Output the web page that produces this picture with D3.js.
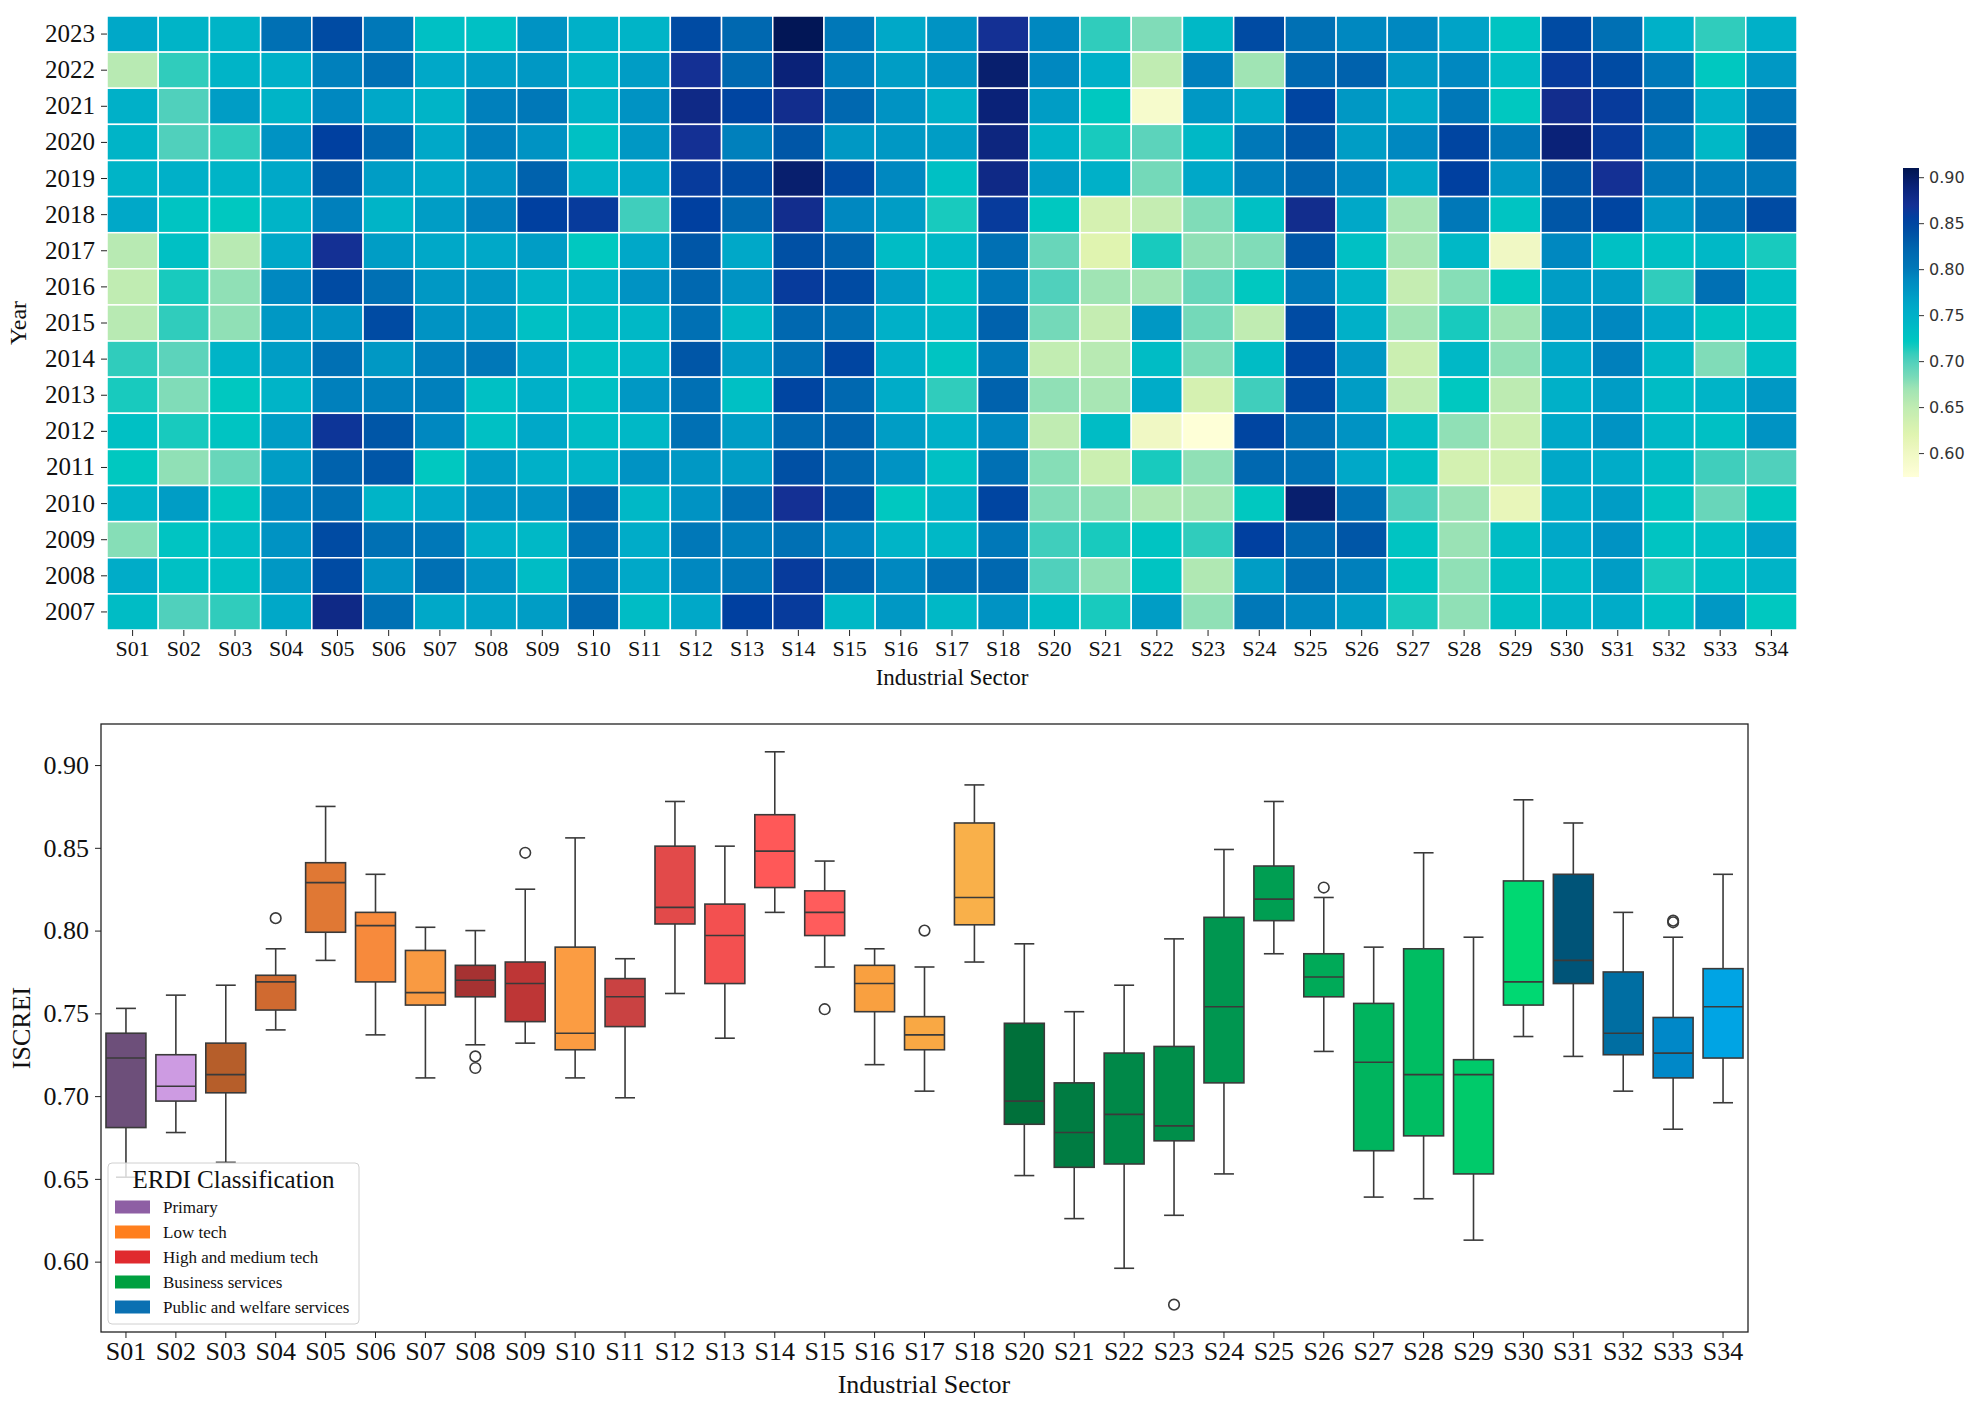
<!DOCTYPE html>
<html>
<head>
<meta charset="utf-8">
<script src="https://cdn.jsdelivr.net/npm/d3@7"></script>
<style>
html,body{margin:0;padding:0;background:#fff;}
svg{display:block;}
</style>
</head>
<body>
<svg id="chart" width="1977" height="1406"></svg>
<script>
// ---------- DATA ----------
const sectors = ["S01","S02","S03","S04","S05","S06","S07","S08","S09","S10","S11","S12","S13","S14","S15","S16","S17","S18","S20","S21","S22","S23","S24","S25","S26","S27","S28","S29","S30","S31","S32","S33","S34"];
const years = [2023,2022,2021,2020,2019,2018,2017,2016,2015,2014,2013,2012,2011,2010,2009,2008,2007];

// ISCREI per year (rows follow `years`, columns follow `sectors`)
const heatValues = [
 [0.76,0.745,0.745,0.81,0.845,0.80,0.73,0.73,0.78, 0.75,0.745,0.845,0.82,0.907,0.80,0.76,0.78,0.87,0.79, 0.71,0.68,0.74,0.845,0.81,0.79,0.79,0.765,0.725,0.845,0.81,0.75,0.71,0.75],
 [0.655,0.71,0.745,0.75,0.795,0.81,0.76,0.77,0.775, 0.745,0.77,0.87,0.82,0.89,0.795,0.77,0.78,0.895,0.79, 0.75,0.65,0.795,0.67,0.82,0.825,0.775,0.79,0.735,0.86,0.845,0.80,0.72,0.775],
 [0.75,0.70,0.77,0.745,0.79,0.76,0.745,0.795,0.80, 0.745,0.78,0.88,0.85,0.875,0.82,0.78,0.75,0.89,0.77, 0.72,0.59,0.775,0.755,0.85,0.775,0.76,0.80,0.72,0.875,0.86,0.82,0.75,0.80],
 [0.745,0.70,0.71,0.78,0.855,0.82,0.76,0.795,0.78, 0.73,0.775,0.87,0.795,0.835,0.775,0.775,0.77,0.885,0.745, 0.715,0.695,0.74,0.80,0.835,0.77,0.79,0.85,0.80,0.89,0.86,0.80,0.74,0.825],
 [0.745,0.75,0.745,0.76,0.835,0.77,0.76,0.78,0.825, 0.745,0.76,0.86,0.845,0.895,0.845,0.79,0.73,0.88,0.77, 0.75,0.685,0.76,0.795,0.82,0.79,0.76,0.855,0.775,0.835,0.87,0.80,0.795,0.80],
 [0.76,0.725,0.72,0.745,0.795,0.745,0.77,0.795,0.855, 0.86,0.705,0.855,0.82,0.875,0.79,0.77,0.715,0.86,0.72, 0.63,0.645,0.68,0.73,0.875,0.76,0.665,0.80,0.725,0.835,0.85,0.775,0.80,0.845],
 [0.655,0.73,0.655,0.76,0.87,0.77,0.76,0.76,0.77, 0.72,0.76,0.835,0.76,0.84,0.825,0.735,0.74,0.81,0.69, 0.62,0.715,0.675,0.68,0.835,0.73,0.665,0.74,0.60,0.79,0.73,0.73,0.74,0.715],
 [0.65,0.715,0.675,0.79,0.845,0.81,0.775,0.775,0.745, 0.745,0.78,0.82,0.78,0.86,0.845,0.77,0.73,0.80,0.70, 0.67,0.668,0.69,0.72,0.80,0.745,0.645,0.678,0.72,0.77,0.77,0.71,0.81,0.73],
 [0.655,0.71,0.675,0.775,0.78,0.845,0.78,0.775,0.73, 0.735,0.74,0.81,0.74,0.82,0.81,0.75,0.74,0.825,0.685, 0.645,0.775,0.685,0.65,0.845,0.75,0.67,0.715,0.67,0.775,0.79,0.76,0.725,0.725],
 [0.71,0.695,0.745,0.77,0.81,0.775,0.795,0.80,0.76, 0.73,0.74,0.835,0.77,0.81,0.85,0.75,0.725,0.80,0.648, 0.655,0.735,0.68,0.735,0.85,0.775,0.64,0.74,0.675,0.76,0.795,0.74,0.68,0.73],
 [0.715,0.68,0.72,0.745,0.795,0.795,0.795,0.73,0.75, 0.73,0.775,0.81,0.73,0.85,0.82,0.755,0.71,0.825,0.675, 0.665,0.755,0.63,0.705,0.845,0.77,0.648,0.72,0.652,0.75,0.77,0.735,0.745,0.775],
 [0.73,0.715,0.725,0.77,0.865,0.835,0.79,0.73,0.76, 0.735,0.74,0.81,0.77,0.82,0.825,0.77,0.75,0.79,0.65, 0.735,0.60,0.575,0.85,0.81,0.78,0.735,0.675,0.64,0.76,0.78,0.74,0.73,0.78],
 [0.72,0.675,0.69,0.77,0.825,0.835,0.72,0.77,0.75, 0.745,0.78,0.775,0.77,0.84,0.82,0.78,0.73,0.81,0.678, 0.64,0.715,0.675,0.82,0.81,0.76,0.73,0.632,0.632,0.76,0.755,0.735,0.705,0.70],
 [0.745,0.77,0.72,0.79,0.81,0.745,0.76,0.78,0.78, 0.82,0.74,0.78,0.81,0.87,0.835,0.72,0.745,0.85,0.68, 0.675,0.66,0.665,0.72,0.895,0.81,0.70,0.672,0.61,0.755,0.77,0.725,0.69,0.72],
 [0.678,0.725,0.735,0.78,0.845,0.81,0.80,0.75,0.74, 0.81,0.755,0.80,0.795,0.81,0.79,0.745,0.74,0.80,0.705, 0.715,0.725,0.71,0.855,0.82,0.835,0.725,0.672,0.735,0.76,0.78,0.725,0.73,0.765],
 [0.755,0.73,0.73,0.775,0.845,0.78,0.81,0.78,0.735, 0.80,0.76,0.79,0.80,0.86,0.825,0.79,0.81,0.82,0.70, 0.675,0.725,0.66,0.77,0.81,0.795,0.725,0.675,0.73,0.74,0.77,0.715,0.73,0.745],
 [0.735,0.70,0.71,0.76,0.88,0.81,0.76,0.765,0.77, 0.82,0.735,0.76,0.855,0.86,0.74,0.775,0.74,0.78,0.735, 0.715,0.77,0.675,0.80,0.79,0.77,0.715,0.675,0.73,0.745,0.755,0.73,0.775,0.72]
];

// Box-plot statistics per sector
const whiskerHigh = [0.753,0.761,0.767,0.789,0.875,0.834,0.802,0.800,0.825,0.856,0.783,0.878,0.851,0.908,0.842,0.789,0.778,0.888,0.792,0.751,0.767,0.795,0.849,0.878,0.820,0.790,0.847,0.796,0.879,0.865,0.811,0.796,0.834];
const q3Values    = [0.738,0.725,0.732,0.773,0.841,0.811,0.788,0.779,0.781,0.790,0.771,0.851,0.816,0.870,0.824,0.779,0.748,0.865,0.744,0.708,0.726,0.730,0.808,0.839,0.786,0.756,0.789,0.722,0.830,0.834,0.775,0.7475,0.777];
const medianValues= [0.723,0.706,0.713,0.769,0.829,0.803,0.7625,0.770,0.768,0.738,0.760,0.814,0.797,0.848,0.811,0.768,0.737,0.820,0.697,0.678,0.689,0.682,0.754,0.819,0.772,0.7205,0.713,0.713,0.769,0.782,0.738,0.726,0.754];
const q1Values    = [0.681,0.697,0.702,0.752,0.799,0.769,0.755,0.760,0.745,0.728,0.742,0.804,0.768,0.826,0.797,0.751,0.728,0.8035,0.683,0.657,0.659,0.673,0.708,0.806,0.760,0.667,0.676,0.653,0.755,0.768,0.725,0.711,0.723];
const whiskerLow  = [0.651,0.678,0.660,0.740,0.782,0.737,0.711,0.731,0.732,0.711,0.699,0.762,0.735,0.811,0.778,0.719,0.703,0.781,0.652,0.626,0.596,0.628,0.653,0.786,0.727,0.639,0.638,0.613,0.736,0.724,0.703,0.680,0.696];
const outlierValues = [[],[],[],[0.8075],[],[],[],[0.724,0.717],[0.847],[],[],[],[],[],[0.7525],[],[0.800],[],[],[],[],[0.574],[],[],[0.826],[],[],[],[],[],[],[0.806,0.805],[]];

const categories = ["Primary","Low tech","High and medium tech","Business services","Public and welfare services"];
const categoryColors = ["#8e5fa4","#ff7f1e","#e02a2e","#00a040","#0a70b2"];
const boxColors = ["#6d4f7a","#cd9be2","#b65e2a","#d06a30","#e07834","#f78a3c","#f99a42","#a63232","#be3636","#fb9c42","#c94242","#e24a4a","#f35050","#ff5858","#ff5c5c","#f9a040","#f9a844","#f9b04a","#00703a","#007c42","#008848","#008e4a","#009650","#009e52","#00aa58","#00b45e","#00bd62","#00ca6a","#00d872","#005478","#006ea2","#0088c8","#00a4e4"];

const cbTicks = [0.60,0.65,0.70,0.75,0.80,0.85,0.90];
const boxTicks = [0.60,0.65,0.70,0.75,0.80,0.85,0.90];

// ---------- DRAW ----------
const svg = d3.select("#chart");
const serif = "'Liberation Serif','Times New Roman',serif";

// colormap
const cmapStops = [0.574,0.60,0.62,0.65,0.67,0.68,0.70,0.71,0.72,0.73,0.75,0.76,0.775,0.79,0.80,0.82,0.84,0.855,0.87,0.89,0.91];
const cmapColors = ["#ffffd8","#f0f8c4","#e0f4b0","#c0ecb2","#a0e4b4","#80dcb8","#50d0bc","#30ccbc","#00c8c0","#00c0c4","#00b0c8","#00a8c8","#0098c4","#0088c0","#0078b8","#0068b0","#0050a4","#0040a0","#143094","#0a2278","#001450"];
const color = d3.scaleLinear().domain(cmapStops).range(cmapColors).interpolate(d3.interpolateRgb).clamp(true);

// Heatmap
const hx = d3.scaleBand().domain(sectors).range([107,1797]);
const hy = d3.scaleBand().domain(years).range([16,630]);
const cells = [];
years.forEach((yr,i)=>sectors.forEach((s,j)=>cells.push({yr,s,v:heatValues[i][j]})));
svg.append("g").selectAll("rect").data(cells).join("rect")
  .attr("x",d=>hx(d.s)).attr("y",d=>hy(d.yr))
  .attr("width",hx.bandwidth()).attr("height",hy.bandwidth())
  .attr("fill",d=>color(d.v)).attr("stroke","#fff").attr("stroke-width",1.5);

const hxAxis = svg.append("g").attr("transform","translate(0,630)")
  .call(d3.axisBottom(hx).tickSize(6).tickPadding(4));
hxAxis.select(".domain").remove();
hxAxis.selectAll("text").attr("font-family",serif).attr("font-size",22).attr("fill","#111");
hxAxis.selectAll("line").attr("stroke","#222");

const hyAxis = svg.append("g").attr("transform","translate(107,0)")
  .call(d3.axisLeft(hy).tickSize(6).tickPadding(6).tickFormat(d3.format("d")));
hyAxis.select(".domain").remove();
hyAxis.selectAll("text").attr("font-family",serif).attr("font-size",25).attr("fill","#111");
hyAxis.selectAll("line").attr("stroke","#222");

svg.append("text").attr("x",952).attr("y",685).attr("text-anchor","middle")
  .attr("font-family",serif).attr("font-size",23).attr("fill","#111").text("Industrial Sector");
svg.append("text").attr("transform","translate(26,323) rotate(-90)").attr("text-anchor","middle")
  .attr("font-family",serif).attr("font-size",24).attr("fill","#111").text("Year");

// Colorbar
const cbY = d3.scaleLinear().domain([0.574,0.91]).range([477,168]);
const defs = svg.append("defs");
const grad = defs.append("linearGradient").attr("id","cbgrad").attr("x1",0).attr("y1",1).attr("x2",0).attr("y2",0);
d3.range(0,1.0001,0.02).forEach(t=>{
  const v = 0.574 + t*(0.91-0.574);
  grad.append("stop").attr("offset",t).attr("stop-color",color(v));
});
svg.append("rect").attr("x",1903).attr("y",168).attr("width",16).attr("height",309).attr("fill","url(#cbgrad)");
const cbAxis = svg.append("g").attr("transform","translate(1919,0)")
  .call(d3.axisRight(cbY).tickValues(cbTicks).tickFormat(d3.format(".2f")).tickSize(5).tickPadding(5));
cbAxis.select(".domain").remove();
cbAxis.selectAll("text").attr("font-family","'DejaVu Sans',sans-serif").attr("font-size",16).attr("fill","#333");
cbAxis.selectAll("line").attr("stroke","#333");

// Box plot
const bx = d3.scaleBand().domain(sectors).range([101,1748]);
const by = d3.scaleLinear().domain([0.5575,0.9248]).range([1332,724]);
const ink = "#3a3a3a";
const bw = bx.bandwidth()*0.8;

svg.append("rect").attr("x",101).attr("y",724).attr("width",1647).attr("height",608)
  .attr("fill","none").attr("stroke","#222").attr("stroke-width",1.3);

const boxes = svg.append("g").selectAll("g").data(sectors).join("g")
  .attr("transform",d=>`translate(${bx(d)+bx.bandwidth()/2},0)`);
boxes.append("line").attr("x1",0).attr("x2",0)
  .attr("y1",(d,i)=>by(whiskerHigh[i])).attr("y2",(d,i)=>by(q3Values[i])).attr("stroke",ink).attr("stroke-width",1.6);
boxes.append("line").attr("x1",0).attr("x2",0)
  .attr("y1",(d,i)=>by(q1Values[i])).attr("y2",(d,i)=>by(whiskerLow[i])).attr("stroke",ink).attr("stroke-width",1.6);
boxes.append("line").attr("x1",-bw/4).attr("x2",bw/4)
  .attr("y1",(d,i)=>by(whiskerHigh[i])).attr("y2",(d,i)=>by(whiskerHigh[i])).attr("stroke",ink).attr("stroke-width",1.6);
boxes.append("line").attr("x1",-bw/4).attr("x2",bw/4)
  .attr("y1",(d,i)=>by(whiskerLow[i])).attr("y2",(d,i)=>by(whiskerLow[i])).attr("stroke",ink).attr("stroke-width",1.6);
boxes.append("rect").attr("x",-bw/2).attr("width",bw)
  .attr("y",(d,i)=>by(q3Values[i])).attr("height",(d,i)=>by(q1Values[i])-by(q3Values[i]))
  .attr("fill",(d,i)=>boxColors[i]).attr("stroke",ink).attr("stroke-width",1.6);
boxes.append("line").attr("x1",-bw/2).attr("x2",bw/2)
  .attr("y1",(d,i)=>by(medianValues[i])).attr("y2",(d,i)=>by(medianValues[i])).attr("stroke",ink).attr("stroke-width",1.6);
boxes.each(function(d,i){
  d3.select(this).selectAll("circle").data(outlierValues[i]).join("circle")
    .attr("cx",0).attr("cy",v=>by(v)).attr("r",5.3)
    .attr("fill","none").attr("stroke",ink).attr("stroke-width",1.6);
});

const bxAxis = svg.append("g").attr("transform","translate(0,1332)")
  .call(d3.axisBottom(bx).tickSize(6).tickPadding(4));
bxAxis.select(".domain").remove();
bxAxis.selectAll("text").attr("font-family",serif).attr("font-size",26).attr("fill","#111");
bxAxis.selectAll("line").attr("stroke","#222");

const byAxis = svg.append("g").attr("transform","translate(101,0)")
  .call(d3.axisLeft(by).tickValues(boxTicks).tickFormat(d3.format(".2f")).tickSize(6).tickPadding(6));
byAxis.select(".domain").remove();
byAxis.selectAll("text").attr("font-family",serif).attr("font-size",26).attr("fill","#111");
byAxis.selectAll("line").attr("stroke","#222");

svg.append("text").attr("x",924).attr("y",1393).attr("text-anchor","middle")
  .attr("font-family",serif).attr("font-size",26).attr("fill","#111").text("Industrial Sector");
svg.append("text").attr("transform","translate(30,1028) rotate(-90)").attr("text-anchor","middle")
  .attr("font-family",serif).attr("font-size",26).attr("fill","#111").text("ISCREI");

// Legend
const lg = svg.append("g");
lg.append("rect").attr("x",108).attr("y",1163).attr("width",251).attr("height",161).attr("rx",4)
  .attr("fill","#fff").attr("fill-opacity",0.8).attr("stroke","#d0d0d0").attr("stroke-width",1);
lg.append("text").attr("x",233.5).attr("y",1188).attr("text-anchor","middle")
  .attr("font-family",serif).attr("font-size",25).attr("fill","#111").text("ERDI Classification");
const items = lg.selectAll("g.item").data(categories).join("g").attr("class","item")
  .attr("transform",(d,i)=>`translate(0,${1207+i*25})`);
items.append("rect").attr("x",115).attr("y",-6.5).attr("width",35).attr("height",13)
  .attr("fill",(d,i)=>categoryColors[i]);
items.append("text").attr("x",163).attr("y",6).attr("font-family",serif).attr("font-size",17).attr("fill","#111").text(d=>d);
</script>
</body>
</html>
